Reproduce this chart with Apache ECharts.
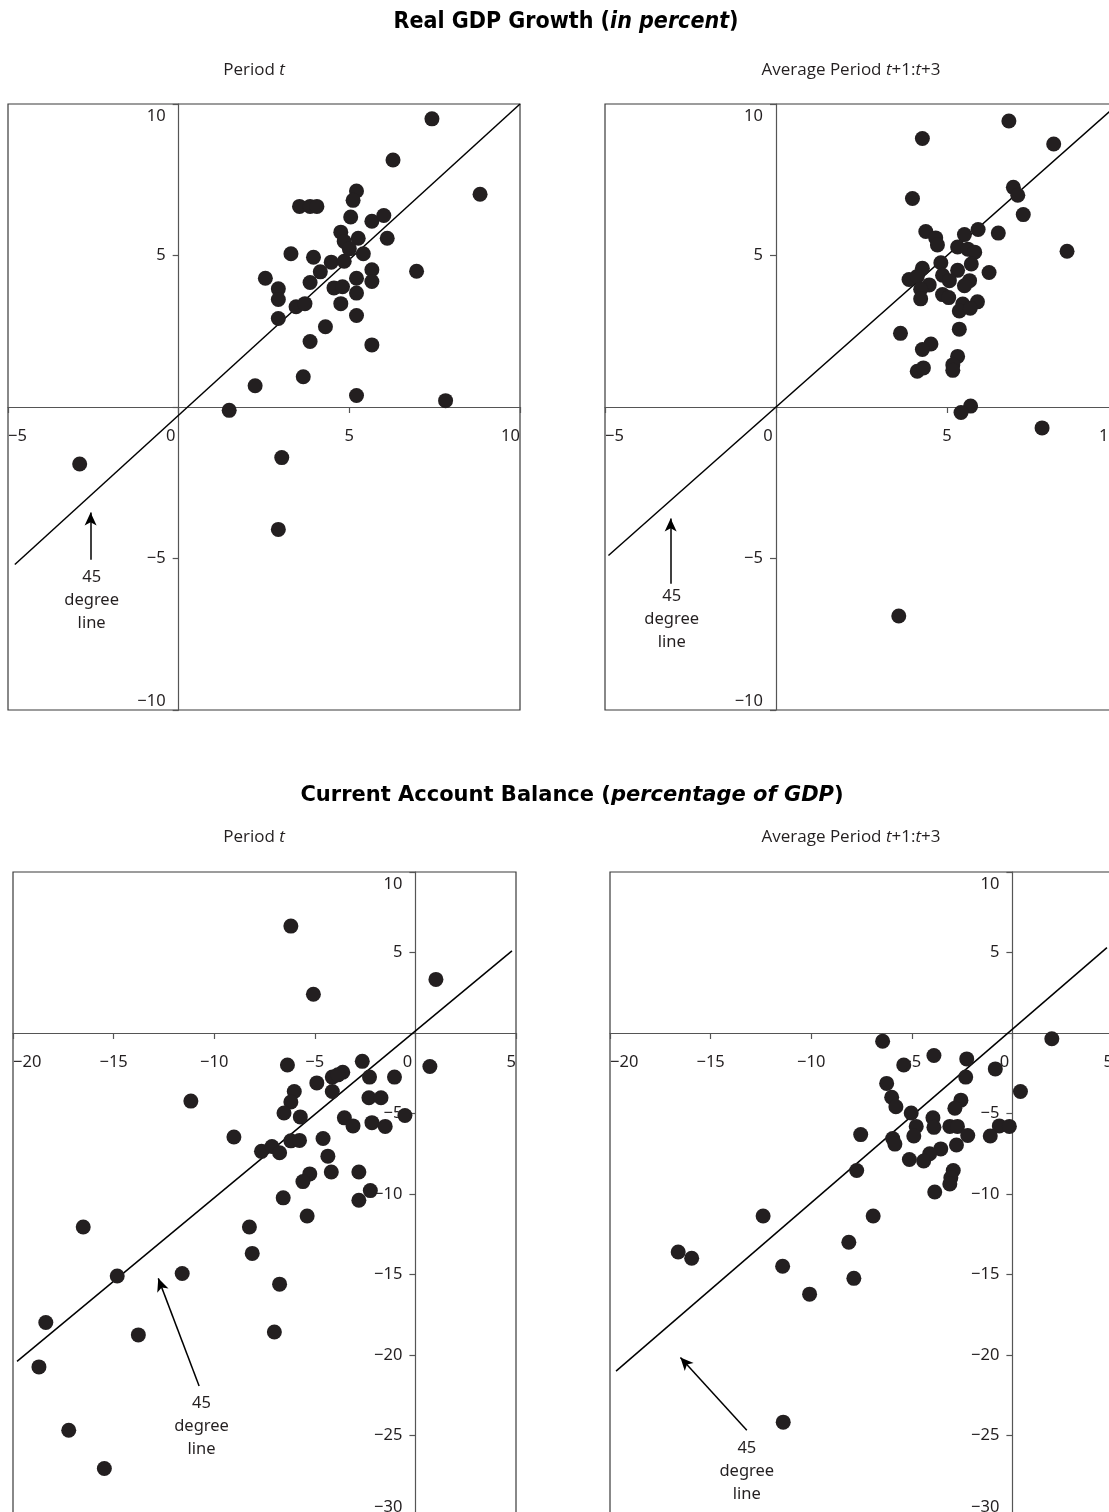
<!DOCTYPE html>
<html><head><meta charset="utf-8">
<script src="https://cdn.jsdelivr.net/npm/echarts@6/dist/echarts.min.js"></script>
<style>html,body{margin:0;padding:0;background:#fff}#c{width:1109px;height:1512px}</style>
</head><body><div id="c"></div>
<script>
// ---- Real GDP growth ----
const gdpPeriodT = [[7.42,9.51],[6.28,8.15],[8.83,7.02],[5.21,7.13],[5.11,6.82],[3.54,6.62],[3.85,6.62],[4.05,6.62],[5.04,6.27],[5.66,6.13],[6.01,6.32],[4.75,5.77],[4.85,5.46],[5.26,5.57],[6.11,5.57],[5.41,5.06],[3.29,5.06],[3.95,4.94],[4.47,4.78],[4.85,4.81],[5.0,5.22],[4.15,4.46],[5.66,4.53],[6.97,4.48],[2.54,4.25],[5.21,4.25],[5.66,4.14],[3.85,4.11],[2.92,3.9],[4.55,3.93],[4.8,3.97],[5.21,3.76],[2.92,3.55],[4.75,3.41],[3.44,3.31],[3.7,3.41],[5.21,3.02],[2.92,2.92],[4.3,2.65],[3.85,2.16],[5.66,2.05],[3.65,1.0],[2.24,0.7],[5.21,0.38],[7.82,0.21],[1.48,-0.11],[-2.9,-1.88],[3.02,-1.67],[2.92,-4.04]];
const gdpAvgNext = [[6.81,9.44],[4.28,8.86],[8.12,8.68],[3.99,6.88],[6.94,7.25],[7.07,6.99],[7.23,6.35],[5.91,5.86],[6.5,5.74],[4.38,5.79],[4.67,5.58],[4.72,5.35],[5.51,5.69],[5.31,5.28],[5.61,5.21],[5.81,5.11],[8.51,5.14],[4.82,4.76],[5.71,4.72],[4.28,4.58],[5.31,4.51],[6.23,4.44],[3.89,4.21],[4.13,4.31],[4.48,4.03],[4.87,4.35],[5.07,4.17],[5.66,4.17],[5.51,4.0],[4.23,3.89],[4.87,3.71],[4.23,3.57],[5.05,3.61],[5.46,3.4],[5.89,3.47],[5.36,3.17],[5.68,3.26],[3.64,2.43],[5.36,2.57],[4.53,2.08],[4.28,1.9],[5.31,1.67],[5.17,1.39],[4.13,1.18],[4.31,1.29],[5.17,1.21],[5.69,0.03],[5.41,-0.18],[7.78,-0.69],[3.59,-6.9]];
// ---- Current account balance ----
const caPeriodT = [[-6.19,6.64],[-5.07,2.41],[1.02,3.33],[-6.36,-1.99],[-2.64,-1.76],[0.72,-2.08],[-4.9,-3.1],[-4.13,-2.74],[-3.61,-2.44],[-3.85,-2.6],[-2.28,-2.74],[-1.04,-2.74],[-6.02,-3.63],[-4.13,-3.63],[-11.16,-4.23],[-6.19,-4.29],[-2.31,-4.02],[-1.71,-4.02],[-6.53,-4.97],[-5.72,-5.21],[-3.53,-5.27],[-2.16,-5.57],[-1.5,-5.8],[-0.52,-5.12],[-3.1,-5.77],[-9.02,-6.46],[-6.19,-6.7],[-5.76,-6.67],[-4.59,-6.55],[-7.65,-7.35],[-7.13,-7.05],[-6.75,-7.44],[-4.35,-7.65],[-5.25,-8.75],[-5.59,-9.23],[-4.18,-8.63],[-2.81,-8.63],[-2.24,-9.79],[-2.81,-10.39],[-6.57,-10.24],[-5.38,-11.37],[-16.51,-12.05],[-8.25,-12.05],[-8.11,-13.69],[-14.82,-15.09],[-11.59,-14.94],[-6.75,-15.6],[-18.37,-17.98],[-13.77,-18.75],[-7.01,-18.57],[-18.71,-20.74],[-17.23,-24.67],[-15.46,-27.05]];
const caAvgNext = [[-6.45,-0.51],[1.96,-0.36],[-3.9,-1.4],[-5.4,-1.99],[-2.27,-1.61],[-0.85,-2.23],[-2.32,-2.74],[-6.25,-3.13],[0.4,-3.63],[-6.0,-3.99],[-5.79,-4.58],[-2.56,-4.17],[-2.86,-4.67],[-5.03,-4.97],[-3.95,-5.27],[-7.54,-6.31],[-4.78,-5.8],[-3.9,-5.86],[-3.11,-5.8],[-2.73,-5.8],[-0.65,-5.77],[-0.15,-5.8],[-4.9,-6.4],[-2.22,-6.37],[-1.1,-6.4],[-5.95,-6.55],[-5.84,-6.9],[-2.78,-6.96],[-3.56,-7.2],[-4.11,-7.5],[-5.12,-7.86],[-4.41,-7.95],[-2.94,-8.54],[-7.74,-8.54],[-3.06,-8.99],[-3.11,-9.38],[-3.86,-9.88],[-12.39,-11.37],[-6.92,-11.37],[-8.13,-13.0],[-16.61,-13.6],[-15.94,-13.99],[-11.42,-14.49],[-7.88,-15.24],[-10.08,-16.22],[-11.39,-24.17]];
// ---- 45 degree reference lines (end points) ----
const gdpLineT = [[-4.8,-5.2],[10,10]];
const gdpLineNext = [[-4.9,-4.9],[10,10]];
const caLineT = [[-19.8,-20.4],[4.8,5.1]];
const caLineNext = [[-19.7,-21.0],[4.7,5.3]];
// ---- annotation arrows [tail, tip] and label anchors ----
const gdpArrowT = [[-2.58,-5.04],[-2.58,-3.48]];
const gdpArrowNext = [[-3.08,-5.83],[-3.08,-3.68]];
const caArrowT = [[-10.75,-21.93],[-12.78,-15.24]];
const caArrowNext = [[-13.2,-24.67],[-16.5,-20.15]];
const gdpNoteT = [-2.55,-6.37];
const gdpNoteNext = [-3.05,-7.0];
const caNoteT = [-10.63,-24.4];
const caNoteNext = [-13.2,-27.2];
const noteText = '45\ndegree\nline';
// ---- axis ranges ----
const gdpRangeX = [-5,10], gdpRangeY = [-10,10];
const caRangeX = [-20,5], caRangeY = [-30,10];
// ---- titles ----
const titleTop = ['Real GDP Growth (', 'in percent', ')'];
const titleBottom = ['Current Account Balance (', 'percentage of GDP', ')'];
const subLeft = ['Period ', 't'];
const subRight = ['Average Period ', 't', '+1:', 't', '+3'];

const INK = '#231f20';
const TICKFONT = "'Noto Sans', 'Open Sans', sans-serif";
const TICKSIZE = 16.5;
const fmt = v => v < 0 ? '\u2212' + Math.abs(v) : String(v);

const grids = [
  {left: 8, top: 104, width: 512, height: 606},
  {left: 605, top: 104, width: 513, height: 606},
  {left: 13, top: 872, width: 503, height: 644},
  {left: 610, top: 872, width: 503, height: 644}
];
const ranges = [[gdpRangeX, gdpRangeY],[gdpRangeX, gdpRangeY],[caRangeX, caRangeY],[caRangeX, caRangeY]];
const axisCol = '#555';

// axes are shifted inward so they cross at the origin
const xAxes = ranges.map((r, i) => ({
  gridIndex: i, type: 'value', min: r[0][0], max: r[0][1], interval: 5, position: 'bottom',
  offset: -((0 - r[1][0]) / (r[1][1] - r[1][0])) * grids[i].height,
  axisLine: {onZero: false, lineStyle: {color: axisCol, width: 1.2}},
  axisTick: {show: true, length: 6, lineStyle: {color: axisCol, width: 1.2}},
  splitLine: {show: false},
  axisLabel: {
    margin: 21, fontSize: TICKSIZE, color: INK, fontFamily: TICKFONT,
    alignMinLabel: 'left', alignMaxLabel: 'right',
    formatter: v => v === 0 ? '{z|0}' : fmt(v),
    rich: {z: {padding: [0, 16, 0, 0], fontSize: TICKSIZE, color: INK, fontFamily: TICKFONT}}
  }
}));
const yAxes = ranges.map((r, i) => ({
  gridIndex: i, type: 'value', min: r[1][0], max: r[1][1], interval: 5, position: 'left',
  offset: -((0 - r[0][0]) / (r[0][1] - r[0][0])) * grids[i].width,
  axisLine: {onZero: false, lineStyle: {color: axisCol, width: 1.2}},
  axisTick: {show: true, length: 6, lineStyle: {color: axisCol, width: 1.2}},
  splitLine: {show: false},
  axisLabel: {
    margin: 13, fontSize: TICKSIZE, color: INK, fontFamily: TICKFONT,
    verticalAlignMinLabel: 'bottom', verticalAlignMaxLabel: 'top',
    formatter: v => v === 0 ? '' : (v === r[1][1] ? '{t|' + fmt(v) + '}' : fmt(v)),
    rich: {t: {padding: [4, 0, 0, 0], fontSize: TICKSIZE, color: INK, fontFamily: TICKFONT}}
  }
}));

const panels = [
  [gdpPeriodT, gdpLineT, gdpArrowT, gdpNoteT],
  [gdpAvgNext, gdpLineNext, gdpArrowNext, gdpNoteNext],
  [caPeriodT, caLineT, caArrowT, caNoteT],
  [caAvgNext, caLineNext, caArrowNext, caNoteNext]
];
const series = [];
panels.forEach((p, i) => {
  series.push({
    type: 'line', xAxisIndex: i, yAxisIndex: i, data: p[1], symbol: 'none', z: 3,
    lineStyle: {color: '#000', width: 1.5},
    markLine: {
      silent: true, symbol: ['none', 'arrow'], symbolSize: [9, 13],
      lineStyle: {color: '#000', width: 1.5, type: 'solid'}, label: {show: false},
      data: [[{coord: p[2][0]}, {coord: p[2][1]}]]
    }
  });
  series.push({
    type: 'scatter', xAxisIndex: i, yAxisIndex: i, data: p[0], symbolSize: 15, z: 5,
    itemStyle: {color: INK, opacity: 1}
  });
  series.push({
    type: 'scatter', xAxisIndex: i, yAxisIndex: i, data: [p[3]], symbolSize: 0, z: 4,
    itemStyle: {color: INK, opacity: 1},
    label: {show: true, position: 'inside', formatter: noteText, fontSize: 16.5, lineHeight: 23,
      color: INK, opacity: 1, fontFamily: TICKFONT, align: 'center'}
  });
});

const TITLEFONT = "'Liberation Sans Narrow', 'DejaVu Sans Condensed', sans-serif";
const TITLEFONT2 = "'DejaVu Sans', sans-serif";
const SUBFONT = "'Open Sans', 'Noto Sans', sans-serif";
const SUBSIZE = 17;
const richTitle = (font, size) => ({
  b: {fontFamily: font, fontSize: size, fontWeight: 'bold', color: '#000'},
  i: {fontFamily: font, fontSize: size, fontWeight: 'bold', fontStyle: 'italic', color: '#000'}
});
const richSub = {
  r: {fontFamily: SUBFONT, fontSize: SUBSIZE, fontWeight: 'normal', color: INK},
  i: {fontFamily: SUBFONT, fontSize: SUBSIZE, fontWeight: 'normal', fontStyle: 'italic', color: INK}
};
const subText = parts => parts.map(s => (s === 't' ? '{i|' + s + '}' : '{r|' + s + '}')).join('');

const titles = [
  {text: '{b|' + titleTop[0] + '}{i|' + titleTop[1] + '}{b|' + titleTop[2] + '}', left: 561, top: 6, textAlign: 'center',
    textStyle: {rich: richTitle(TITLEFONT, 23)}},
  {text: '{b|' + titleBottom[0] + '}{i|' + titleBottom[1] + '}{b|' + titleBottom[2] + '}', left: 567, top: 780, textAlign: 'center',
    textStyle: {rich: richTitle(TITLEFONT2, 21)}},
  {text: subText(subLeft), left: 249, top: 57, textAlign: 'center', textStyle: {fontWeight: 'normal', rich: richSub}},
  {text: subText(subRight), left: 846, top: 57, textAlign: 'center', textStyle: {fontWeight: 'normal', rich: richSub}},
  {text: subText(subLeft), left: 249, top: 824, textAlign: 'center', textStyle: {fontWeight: 'normal', rich: richSub}},
  {text: subText(subRight), left: 846, top: 824, textAlign: 'center', textStyle: {fontWeight: 'normal', rich: richSub}}
];

const chart = echarts.init(document.getElementById('c'), null, {renderer: 'canvas'});
chart.setOption({
  backgroundColor: '#fff',
  animation: false,
  title: titles,
  grid: grids.map(g => Object.assign({show: true, borderColor: '#3a3a3a', borderWidth: 1.2, backgroundColor: 'transparent', containLabel: false, outerBoundsMode: 'none'}, g)),
  xAxis: xAxes,
  yAxis: yAxes,
  series: series
});
</script></body></html>
